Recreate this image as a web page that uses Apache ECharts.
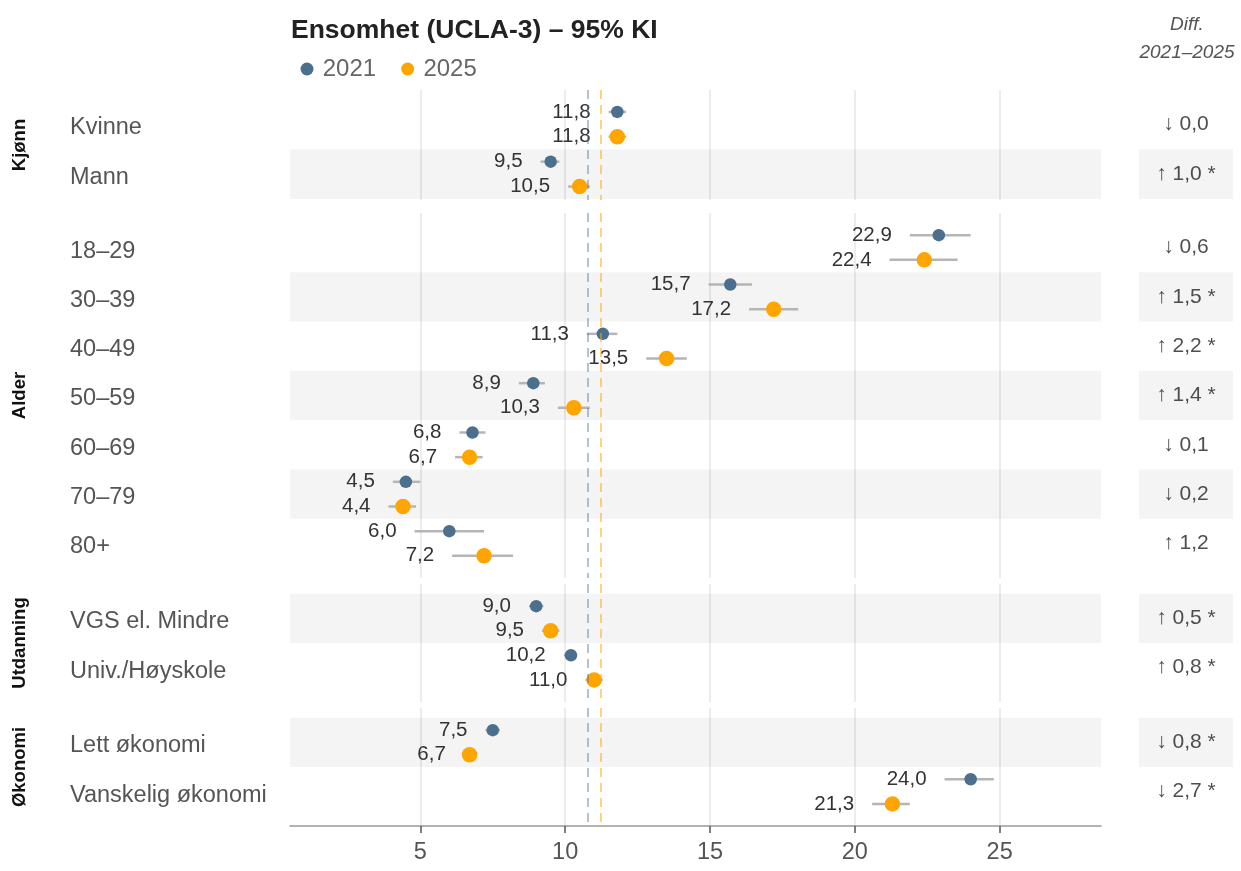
<!DOCTYPE html>
<html>
<head>
<meta charset="utf-8">
<script src="https://cdn.jsdelivr.net/npm/echarts@6/dist/echarts.min.js"></script>
<style>
html,body{margin:0;padding:0;background:#fff;}
#chart{width:1241px;height:871px;}
</style>
</head>
<body>
<div id="chart"></div>
<script>
// ---------- data ----------
const groups = ['Kjønn', 'Alder', 'Utdanning', 'Økonomi'];
const categories = ['Kvinne', 'Mann', '18–29', '30–39', '40–49', '50–59', '60–69', '70–79', '80+',
  'VGS el. Mindre', 'Univ./Høyskole', 'Lett økonomi', 'Vanskelig økonomi'];
const groupOf = [0, 0, 1, 1, 1, 1, 1, 1, 1, 2, 2, 3, 3];

const mean2021 = [11.8, 9.5, 22.9, 15.7, 11.3, 8.9, 6.8, 4.5, 6.0, 9.0, 10.2, 7.5, 24.0];
const lo2021   = [11.5, 9.15, 21.9, 14.95, 10.75, 8.4, 6.35, 4.05, 4.8, 8.75, 9.95, 7.25, 23.1];
const hi2021   = [12.1, 9.8, 24.0, 16.45, 11.8, 9.3, 7.25, 5.0, 7.2, 9.25, 10.4, 7.75, 24.8];

const mean2025 = [11.8, 10.5, 22.4, 17.2, 13.5, 10.3, 6.7, 4.4, 7.2, 9.5, 11.0, 6.7, 21.3];
const lo2025   = [11.5, 10.1, 21.2, 16.35, 12.8, 9.75, 6.2, 3.9, 6.1, 9.2, 10.7, 6.5, 20.6];
const hi2025   = [12.1, 10.85, 23.55, 18.05, 14.2, 10.85, 7.15, 4.85, 8.2, 9.8, 11.3, 6.95, 21.9];

const diffValue = [0.0, 1.0, 0.6, 1.5, 2.2, 1.4, 0.1, 0.2, 1.2, 0.5, 0.8, 0.8, 2.7];
const diffUp    = [false, true, false, true, true, true, false, false, true, true, true, false, false];
const diffSig   = [false, true, false, true, true, true, false, false, false, true, true, true, true];

const overallMean = [10.78, 11.22]; // 2021, 2025
const xTicks = [5, 10, 15, 20, 25];
const years = ['2021', '2025'];

// ---------- layout ----------
const FONT = "'Liberation Sans', Arial, Helvetica, sans-serif";
const C2021 = '#4b6f8c', C2025 = '#FFA500';
const panels = [
  { top: 90,  height: 110, min: -0.69, max: 1.52 },
  { top: 213, height: 365, min: -0.70, max: 6.70 },
  { top: 584, height: 118, min: -0.70, max: 1.70 },
  { top: 708, height: 118, min: -0.70, max: 1.70 }
];
const PLOT_LEFT = 290, PLOT_W = 811;
const DIFF_LEFT = 1139, DIFF_W = 94;
const DODGE = 0.25;

const fmt = v => v.toFixed(1).replace('.', ',');

const localIdx = categories.map((c, i) => {
  let k = 0;
  for (let j = 0; j < i; j++) if (groupOf[j] === groupOf[i]) k++;
  return k;
});

const grids = [], xAxes = [], yAxes = [], series = [];

panels.forEach((p, g) => {
  const rows = categories.map((c, i) => i).filter(i => groupOf[i] === g);
  const names = rows.map(i => categories[i]);
  const ticks = rows.map(i => localIdx[i]);
  const isLast = g === panels.length - 1;
  const mi = 2 * g, di = 2 * g + 1;

  // main grid (index mi)
  grids.push({ left: PLOT_LEFT, width: PLOT_W, top: p.top, height: p.height,
               containLabel: false, outerBoundsMode: 'none' });
  xAxes.push({
    gridIndex: mi, type: 'value', min: 0.5, max: 28.5,
    axisLine: { show: isLast, onZero: false, lineStyle: { color: '#9a9a9a', width: 1.5 } },
    axisTick: { show: isLast, customValues: xTicks, length: 7, lineStyle: { color: '#555', width: 1.5 } },
    axisLabel: { show: isLast, customValues: xTicks, fontSize: 23.5, color: '#555', margin: 15, fontFamily: FONT },
    splitLine: { show: true, lineStyle: { color: '#e6e6e6', width: 1.5 } }
  });
  yAxes.push({
    gridIndex: mi, type: 'value', inverse: true, min: p.min, max: p.max,
    axisLine: { show: false },
    axisTick: { show: false, customValues: ticks },
    splitLine: { show: false },
    axisLabel: {
      customValues: ticks, formatter: v => '{c|' + (names[Math.round(v)] || '') + '}',
      align: 'left', margin: 220, fontFamily: FONT,
      rich: { c: { fontSize: 23.5, color: '#555', fontFamily: FONT, padding: [7, 0, 0, 0] } }
    },
    name: groups[g], nameLocation: 'middle', nameRotate: 90, nameGap: 261,
    nameTextStyle: { fontWeight: 'bold', fontSize: 18.5, color: '#111', fontFamily: FONT }
  });
  // diff grid (index di)
  grids.push({ left: DIFF_LEFT, width: DIFF_W, top: p.top, height: p.height,
               containLabel: false, outerBoundsMode: 'none' });
  xAxes.push({ gridIndex: di, type: 'value', min: 0, max: 1, show: false, splitLine: { show: false } });
  yAxes.push({ gridIndex: di, type: 'value', inverse: true, min: p.min, max: p.max, show: false, splitLine: { show: false } });

  const bands = rows.filter(i => i % 2 === 1).map(i => [
    { yAxis: localIdx[i] - 0.5, itemStyle: { color: 'rgba(0,0,0,0.042)' } },
    { yAxis: localIdx[i] + 0.5 }
  ]);
  series.push({
    type: 'scatter', xAxisIndex: mi, yAxisIndex: mi, data: [], z: 1, silent: true,
    markArea: { silent: true, data: bands, label: { show: false } }
  });
  series.push({
    type: 'scatter', xAxisIndex: mi, yAxisIndex: mi, data: [], z: 2, silent: true,
    markLine: {
      silent: true, symbol: 'none', label: { show: false },
      data: [
        { xAxis: overallMean[0], lineStyle: { color: 'rgba(75,111,140,0.42)', type: [9, 6], width: 2 } },
        { xAxis: overallMean[1], lineStyle: { color: 'rgba(255,165,0,0.5)', type: [9, 6], width: 2 } }
      ]
    }
  });

  [[mean2021, lo2021, hi2021, -DODGE], [mean2025, lo2025, hi2025, DODGE]].forEach(([m, lo, hi, off], s) => {
    series.push({
      type: 'custom', xAxisIndex: mi, yAxisIndex: mi, z: 3, silent: true,
      data: rows.map(i => [lo[i], hi[i], localIdx[i] + off, m[i]]),
      renderItem: (params, api) => {
        const a = api.coord([api.value(0), api.value(2)]);
        const b = api.coord([api.value(1), api.value(2)]);
        return {
          type: 'group', children: [
            { type: 'line', shape: { x1: a[0], y1: a[1], x2: b[0], y2: b[1] },
              style: { stroke: '#b5b5b5', lineWidth: 2.5 } },
            { type: 'text', x: a[0] - 18, y: a[1],
              style: { text: fmt(api.value(3)), align: 'right', verticalAlign: 'middle',
                       font: '20.5px ' + FONT, fill: '#333' } }
          ]
        };
      }
    });
    series.push({
      name: years[s], type: 'scatter', xAxisIndex: mi, yAxisIndex: mi, z: 4,
      symbol: 'circle', symbolSize: s === 0 ? 12.5 : 15.5,
      itemStyle: { color: s === 0 ? C2021 : C2025, opacity: 1 },
      data: rows.map(i => [m[i], localIdx[i] + off])
    });
  });

  series.push({
    type: 'scatter', xAxisIndex: di, yAxisIndex: di, z: 3, silent: true,
    symbolSize: 2, itemStyle: { color: 'rgba(0,0,0,0)' },
    data: rows.map(i => ({
      value: [0.5, localIdx[i]],
      txt: (diffUp[i] ? '↑ ' : '↓ ') + fmt(diffValue[i]) + (diffSig[i] ? ' *' : '')
    })),
    label: {
      show: true, position: 'inside', formatter: q => q.data.txt,
      fontSize: 21, color: '#222', fontFamily: FONT
    },
    markArea: { silent: true, data: bands, label: { show: false } }
  });
});

const chart = echarts.init(document.getElementById('chart'), null, { renderer: 'canvas' });
chart.setOption({
  backgroundColor: '#fff',
  animation: false,
  textStyle: { fontFamily: FONT },
  title: {
    text: 'Ensomhet (UCLA-3) – 95% KI', left: 291, top: 17, padding: 0,
    textStyle: { fontSize: 26.5, fontWeight: 'bold', color: '#222', fontFamily: FONT }
  },
  legend: {
    data: years, left: 300.5, top: 57, padding: 0, itemGap: 25,
    itemWidth: 21.5, itemHeight: 13, icon: 'circle', selectedMode: false,
    textStyle: { fontSize: 24, color: '#666', fontFamily: FONT }
  },
  graphic: [{
    type: 'text', x: 1187, y: 11, silent: true,
    style: { text: 'Diff.\n2021–2025', align: 'center', verticalAlign: 'top',
             font: 'italic 19px ' + FONT, lineHeight: 27.5, fill: '#555' }
  }],
  grid: grids, xAxis: xAxes, yAxis: yAxes, series: series
});
</script>
</body>
</html>
